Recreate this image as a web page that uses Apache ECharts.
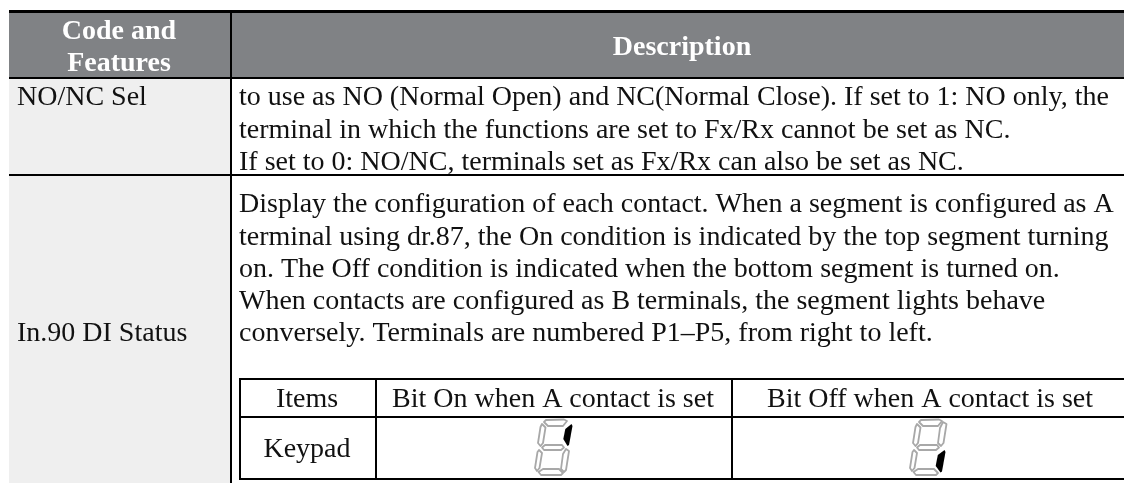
<!DOCTYPE html>
<html><head><meta charset="utf-8">
<style>html,body{margin:0;padding:0;background:#fff}#c{width:1124px;height:483px}</style>
<script src="https://cdn.jsdelivr.net/npm/echarts@6/dist/echarts.min.js"></script></head>
<body><div id="c"></div>
<script>
const headerLeft = ['Code and', 'Features'];
const headerRight = ['Description'];
const rowLabels = ['NO/NC Sel', 'In.90 DI Status'];
const row1Lines = [
 'to use as NO (Normal Open) and NC(Normal Close). If set to 1: NO only, the',
 'terminal in which the functions are set to Fx/Rx cannot be set as NC.',
 'If set to 0: NO/NC, terminals set as Fx/Rx can also be set as NC.'];
const row2Lines = [
 'Display the configuration of each contact. When a segment is configured as A',
 'terminal using dr.87, the On condition is indicated by the top segment turning',
 'on. The Off condition is indicated when the bottom segment is turned on.',
 'When contacts are configured as B terminals, the segment lights behave',
 'conversely. Terminals are numbered P1\u2013P5, from right to left.'];
const innerHeader = ['Items', 'Bit On when A contact is set', 'Bit Off when A contact is set'];
const innerRowLabel = ['Keypad'];

const FS = 28, DY = 2, FF = '"Liberation Serif","Times New Roman",serif', G = [];
const txt = (s, x, y, o = {}) => G.push({type:'text', silent:true, x, y: y + DY, style:Object.assign({text:s, fontFamily:FF, fontSize:FS, fill:'#111', textVerticalAlign:'middle', textAlign:'left'}, o)});
const rect = (x, y, w, h, fill) => G.push({type:'rect', silent:true, shape:{x, y, width:w, height:h}, style:{fill}});

rect(9, 13, 1115, 64, '#808285');
rect(9, 79, 221, 404, '#efefef');
rect(9, 10, 1115, 3, '#000');
rect(9, 77, 1115, 2, '#000');
rect(9, 174, 1115, 2, '#000');
rect(230, 13, 2, 470, '#000');
const il = 239, ir = 1124, it = 378, im = 416, ib = 478, c1 = 375, c2 = 731;
rect(il, it, ir - il, 2, '#000');
rect(il, im, ir - il, 2, '#000');
rect(il, ib, ir - il, 2, '#000');
[il, c1, c2].forEach(x => rect(x, it, 2, ib - it + 2, '#000'));

headerLeft.forEach((s, i) => txt(s, 119, 30 + i * 32, {fontWeight:'bold', fill:'#fff', textAlign:'center'}));
txt(headerRight[0], 682, 46, {fontWeight:'bold', fill:'#fff', textAlign:'center'});
txt(rowLabels[0], 17, 96);
txt(rowLabels[1], 17, 332);
row1Lines.forEach((s, i) => txt(s, 239, 96 + i * 32.3));
row2Lines.forEach((s, i) => txt(s, 239, 203 + i * 32.2));
[307, 553, 930].forEach((x, i) => txt(innerHeader[i], x, 398, {textAlign:'center'}));
txt(innerRowLabel[0], 307, 448, {textAlign:'center'});

const SEG = {
 a: [[11,1],[29,0.5],[32,2],[28,7],[13,7],[9,3]],
 b: [[33,3],[36.5,5],[33.5,24],[31,27],[28,24],[30,9]],
 c: [[31,30],[34,32],[31,51],[29,53],[26,50],[28,35]],
 d: [[8,50],[24,50],[28,54],[26,56],[6,56],[3.5,53]],
 e: [[4,31],[7,34],[4.5,49],[2,52],[0,49],[2.5,33]],
 f: [[7,5],[10.5,8.5],[8,24],[5.5,27],[3,24],[5.5,8]],
 g: [[10,26],[27,26],[29,28.5],[26,31],[9,31],[7,28.5]]
};
const LIT = {
 b: [[36.5,5],[37.5,7],[34,26],[32.5,27],[28.3,20],[30.3,10]],
 c: [[34.5,31],[35.5,33],[32,52.5],[30.5,53.5],[25.7,47],[27.8,36]]
};
function digit(ox, oy, on) {
  const pts = p => p.map(v => [ox + v[0], oy + v[1]]);
  Object.keys(SEG).filter(k => k !== on).forEach(k => G.push({type:'polygon', silent:true, shape:{points:pts(SEG[k])},
    style:{fill:'transparent', stroke:'#a8a8a8', lineWidth:1.8, lineJoin:'round'}}));
  G.push({type:'polygon', silent:true, shape:{points:pts(LIT[on])}, style:{fill:'#000'}});
}
digit(535, 419, 'b');
digit(910, 419, 'c');

echarts.init(document.getElementById('c'), null, {renderer:'canvas'}).setOption({animation:false, backgroundColor:'#fff', graphic:{elements:G}});
</script></body></html>
